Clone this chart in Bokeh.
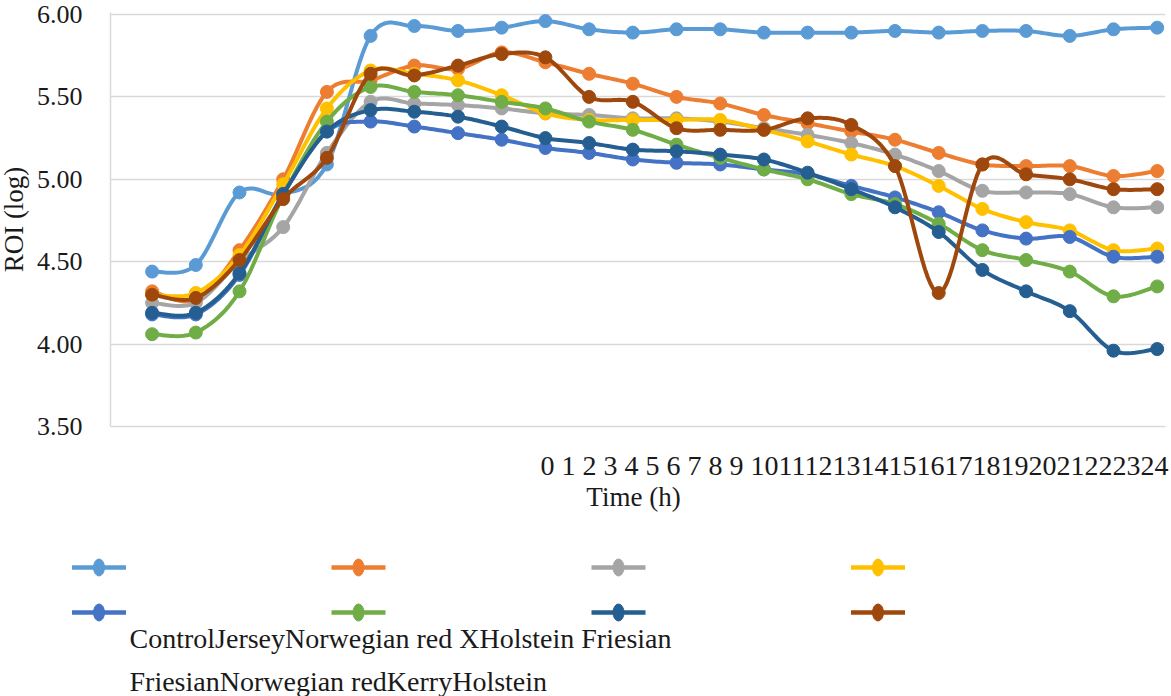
import numpy as np
from bokeh.plotting import figure
from bokeh.models import Range1d, FixedTicker, NumeralTickFormatter, Label
from bokeh.layouts import column, row
from bokeh.embed import file_html
from bokeh.resources import INLINE

# ---------------- data ----------------
hours = list(range(25))
series_names = ["Control", "Jersey", "Norwegian red X", "Holstein Friesian",
                "Friesian", "Norwegian red", "Kerry", "Holstein"]
colors = ["#5B9BD5", "#ED7D31", "#A5A5A5", "#FFC000",
          "#4472C4", "#70AD47", "#255E91", "#9E480E"]
y_ticks = [3.5, 4.0, 4.5, 5.0, 5.5, 6.0]

control = [4.44, 4.48, 4.92, 4.91, 5.09, 5.87, 5.93, 5.90, 5.92, 5.96, 5.91, 5.89,
           5.91, 5.91, 5.89, 5.89, 5.89, 5.90, 5.89, 5.90, 5.90, 5.87, 5.91, 5.92]
jersey = [4.32, 4.27, 4.57, 5.00, 5.53, 5.60, 5.69, 5.67, 5.77, 5.71, 5.64, 5.58,
          5.50, 5.46, 5.39, 5.34, 5.29, 5.24, 5.16, 5.09, 5.08, 5.08, 5.02, 5.05]
norwegian_red_x = [4.25, 4.25, 4.50, 4.71, 5.16, 5.47, 5.46, 5.45, 5.43, 5.40, 5.39, 5.37,
                   5.37, 5.35, 5.31, 5.27, 5.22, 5.15, 5.05, 4.93, 4.92, 4.91, 4.83, 4.83]
holstein_friesian = [4.30, 4.31, 4.54, 4.97, 5.43, 5.66, 5.64, 5.60, 5.51, 5.40, 5.36, 5.36,
                     5.36, 5.36, 5.30, 5.23, 5.15, 5.08, 4.96, 4.82, 4.74, 4.69, 4.57, 4.58]
friesian = [4.18, 4.18, 4.42, 4.91, 5.29, 5.35, 5.32, 5.28, 5.24, 5.19, 5.16, 5.12,
            5.10, 5.09, 5.06, 5.03, 4.96, 4.89, 4.80, 4.69, 4.64, 4.65, 4.53, 4.53]
norwegian_red = [4.06, 4.07, 4.32, 4.90, 5.35, 5.56, 5.53, 5.51, 5.47, 5.43, 5.35, 5.30,
                 5.21, 5.13, 5.06, 5.00, 4.91, 4.85, 4.73, 4.57, 4.51, 4.44, 4.29, 4.35]
kerry = [4.19, 4.19, 4.43, 4.91, 5.29, 5.42, 5.41, 5.38, 5.32, 5.25, 5.22, 5.18,
         5.17, 5.15, 5.12, 5.04, 4.94, 4.83, 4.68, 4.45, 4.32, 4.20, 3.96, 3.97]
holstein = [4.30, 4.28, 4.51, 4.88, 5.13, 5.64, 5.63, 5.69, 5.76, 5.74, 5.50, 5.47,
            5.31, 5.30, 5.30, 5.37, 5.33, 5.08, 4.31, 5.09, 5.03, 5.00, 4.94, 4.94]

series = [control, jersey, norwegian_red_x, holstein_friesian,
          friesian, norwegian_red, kerry, holstein]

FONT = "Liberation Serif, Times New Roman, serif"
TXT = "#1a1a1a"


def smooth(xs, ys, n=16):
    """Excel-like smoothed line (cubic Bezier through every point)."""
    xs = np.asarray(xs, float)
    ys = np.asarray(ys, float)
    P = np.column_stack([xs, ys])
    out = [P[0]]
    m = len(P)
    for i in range(m - 1):
        p0 = P[i - 1] if i > 0 else P[i]
        p1 = P[i]
        p2 = P[i + 1]
        p3 = P[i + 2] if i + 2 < m else P[i + 1]
        c1 = p1 + (p2 - p0) / 6.0
        c2 = p2 - (p3 - p1) / 6.0
        t = np.linspace(0, 1, n + 1)[1:, None]
        b = ((1 - t) ** 3) * p1 + 3 * ((1 - t) ** 2) * t * c1 + 3 * (1 - t) * t ** 2 * c2 + t ** 3 * p2
        out.extend(b)
    out = np.array(out)
    return out[:, 0], out[:, 1]


def blank(width, height):
    f = figure(width=width, height=height, x_range=Range1d(0, width), y_range=Range1d(0, height),
               output_backend="svg", toolbar_location=None, min_border=0, frame_align=False)
    f.axis.visible = False
    f.grid.visible = False
    f.outline_line_color = None
    return f


MAIN_H = 445
LEFT_W = 30

# ---------------- y-axis title strip ----------------
yl = blank(LEFT_W, MAIN_H)
yl.add_layout(Label(x=13, y=MAIN_H - 219, text="ROI (log)", angle=np.pi / 2,
                    text_font=FONT, text_font_size="27px", text_color=TXT,
                    text_align="center", text_baseline="middle"))

# ---------------- main chart ----------------
p = figure(width=1171 - LEFT_W, height=MAIN_H,
           x_range=Range1d(-0.952, 23.19), y_range=Range1d(3.5, 6.012),
           output_backend="svg", toolbar_location=None, frame_align=False,
           min_border_left=110 - LEFT_W, min_border_right=6,
           min_border_top=12, min_border_bottom=MAIN_H - 12 - 414)
p.outline_line_color = None
p.background_fill_color = "white"
p.border_fill_color = "white"

p.xgrid.visible = False
p.ygrid.ticker = FixedTicker(ticks=y_ticks)
p.ygrid.grid_line_color = "#D9D9D9"
p.ygrid.grid_line_width = 1.5

p.yaxis.ticker = FixedTicker(ticks=y_ticks)
p.yaxis.formatter = NumeralTickFormatter(format="0.00")
p.yaxis.major_tick_line_color = None
p.yaxis.minor_tick_line_color = None
p.yaxis.major_tick_out = 0
p.yaxis.major_tick_in = 0
p.yaxis.axis_line_color = "#D9D9D9"
p.yaxis.axis_line_width = 1.5
p.yaxis.major_label_standoff = 28
p.yaxis.major_label_text_font = FONT
p.yaxis.major_label_text_font_size = "26px"
p.yaxis.major_label_text_color = TXT

p.xaxis.ticker = FixedTicker(ticks=[])
p.xaxis.major_tick_line_color = None
p.xaxis.minor_tick_line_color = None
p.xaxis.major_label_text_font_size = "0px"
p.xaxis.axis_line_color = "#D9D9D9"
p.xaxis.axis_line_width = 1.5

for vals, col in zip(series, colors):
    xi = np.arange(len(vals))
    sx, sy = smooth(xi, vals)
    p.line(sx, sy, line_color=col, line_width=4, line_join="round", line_cap="round")
    p.scatter(xi, vals, size=13, marker="circle", fill_color=col, line_color=col)

# ---------------- lower panel: category labels, axis title, legend ----------------
LOW_H = 696 - MAIN_H
lf = blank(1171, LOW_H)


def page_y(y):
    return 696 - y


def add_text(x, y, txt, size, align):
    lf.add_layout(Label(x=x, y=page_y(y), text=txt, text_font=FONT, text_font_size=size,
                        text_color=TXT, text_align=align, text_baseline="middle"))


tick_text = "".join(f"{h} " if h < 10 else f"{h}" for h in hours)
add_text(854, 465, tick_text, "28px", "center")
add_text(633, 496, "Time (h)", "27px", "center")

col_x = [98.5, 358, 618, 877.5]
row_y = [567, 612]
for k, col in enumerate(colors):
    cx = col_x[k % 4]
    cy = page_y(row_y[k // 4])
    lf.line([cx - 27, cx + 27], [cy, cy], line_color=col, line_width=4.5)
    lf.ellipse(x=[cx], y=[cy], width=11, height=17, fill_color=col, line_color=col)

add_text(129, 638, "".join(series_names[:4]), "28px", "left")
add_text(129, 681, "".join(series_names[4:]), "28px", "left")

layout = column(row(yl, p, spacing=0), lf, spacing=0)
open("out.html", "w").write(file_html(layout, INLINE))
